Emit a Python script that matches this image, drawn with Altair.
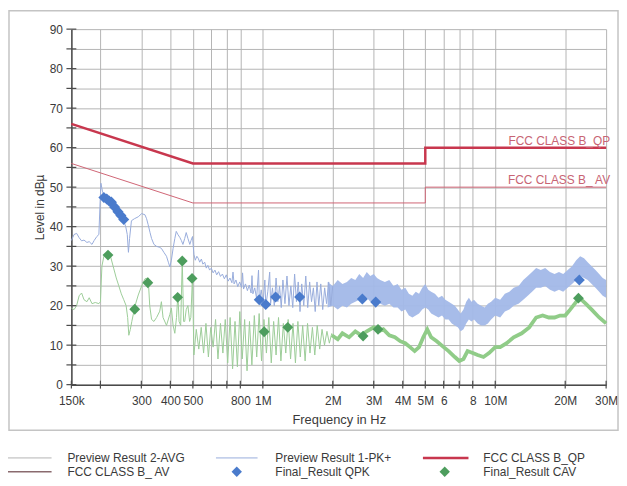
import altair as alt
import pandas as pd

FONT = "Liberation Sans"

# ---------------- data ----------------
# Preview Result 1-PK+ : line part (kHz, dBuV)
pk_f = [150, 154, 158, 162, 166, 170, 175, 179, 184, 188, 193, 197, 199, 201, 204, 208,
        213, 218, 223, 228, 234, 240, 246, 252, 257, 261, 264, 267, 272, 280, 291, 301,
        311, 316, 321, 327, 332, 340, 349, 358, 366, 375, 385, 392, 398, 404, 411, 418,
        424, 431, 439, 446, 453, 461, 468, 476, 485, 491, 498, 505, 512, 520, 527, 535,
        544, 552, 562, 571, 580, 590, 600, 611, 622, 633, 645, 657, 670, 683, 696, 709,
        722, 736, 744, 752, 766, 780, 795, 810, 818, 826, 842, 858, 874, 890, 898, 906,
        923, 940, 958, 966, 984, 1002, 1020, 1030, 1050, 1070, 1080, 1100, 1120, 1140,
        1160, 1180, 1200, 1220, 1245, 1270, 1295, 1320, 1345, 1370, 1395, 1420, 1445,
        1470, 1500, 1530, 1560, 1590, 1620, 1650, 1680, 1710, 1740, 1775, 1810, 1845,
        1880, 1920, 1960, 2000]
pk_v = [36.5, 38.0, 38.3, 37.2, 36.4, 36.6, 36.0, 36.2, 35.5, 36.5, 37.5, 38.0, 45.0, 51.0, 49.0, 47.5,
        46.5, 46.8, 46.0, 45.5, 44.5, 43.0, 42.5, 41.5, 40.0, 38.0, 33.5, 37.0, 41.5, 42.0, 42.5, 43.3,
        43.0, 42.0, 40.5, 38.5, 37.0, 35.5, 35.0, 34.8, 34.5, 33.5, 32.5, 31.0, 29.8, 31.5, 34.5, 37.0,
        38.8, 38.0, 37.3, 36.5, 35.5, 37.0, 38.5, 37.0, 35.5, 36.5, 37.5, 33.0, 31.5, 32.5, 32.0, 31.0,
        31.8, 30.5, 31.0, 29.5, 30.2, 29.0, 29.5, 28.3, 29.0, 27.8, 28.6, 27.4, 28.0, 26.8, 27.8, 26.2,
        27.0, 25.8, 28.5, 25.5, 26.5, 24.8, 26.0, 24.6, 28.3, 24.2, 25.5, 23.8, 25.2, 23.2, 27.6, 23.0,
        24.5, 21.8, 29.0, 21.0, 24.0, 20.5, 26.5, 20.0, 23.5, 28.5, 20.5, 24.5, 20.0, 27.0,
        21.0, 25.0, 19.5, 26.5, 20.5, 27.5, 20.0, 25.0, 19.5, 28.0, 21.0, 26.0, 18.5,
        25.5, 20.0, 27.5, 19.5, 26.0, 21.0, 24.5, 18.5, 26.0, 20.0, 25.5, 19.0, 24.5,
        20.5, 26.0, 20.0, 25.0]

# Preview Result 1-PK+ : dense part, envelope (MHz, dBuV)
pkb_f = [1.9, 2.0, 2.1, 2.2, 2.3, 2.4, 2.5, 2.6, 2.7, 2.8, 2.9, 3.0, 3.1, 3.2, 3.35, 3.5,
         3.65, 3.8, 3.95, 4.1, 4.25, 4.4, 4.55, 4.7, 4.85, 5.0, 5.15, 5.3, 5.5, 5.7, 5.9, 6.1,
         6.3, 6.5, 6.7, 6.9, 7.1, 7.3, 7.5, 7.7, 7.9, 8.1, 8.4, 8.7, 9.0, 9.3, 9.6, 10.0,
         10.5, 11, 11.5, 12, 12.6, 13.2, 13.8, 14.4, 15, 15.7, 16.4, 17.2, 18, 18.8, 19.6,
         20.5, 21.4, 22.3, 23.2, 24.1, 25, 26, 27, 28, 29, 30]
pkb_hi = [26.0, 25.0, 26.5, 25.5, 26.0, 27.0, 26.5, 28.0, 27.0, 28.5, 27.5, 28.0, 27.0, 26.5, 26.0, 26.5,
          25.0, 25.5, 24.0, 24.5, 23.0, 22.5, 23.5, 23.0, 24.5, 25.5, 24.0, 23.5, 23.0, 22.0, 22.5, 21.5,
          21.0, 20.5, 20.0, 19.0, 18.0, 19.0, 21.0, 22.0, 21.0, 21.5, 20.5, 20.0, 19.5, 20.5, 21.0, 22.0,
          21.5, 23.0, 23.5, 24.5, 25.0, 26.5, 27.5, 28.5, 29.5, 29.0, 29.5, 28.5, 28.0, 28.5, 28.0,
          29.0, 30.0, 31.5, 32.5, 32.0, 31.0, 30.0, 29.0, 28.0, 27.0, 26.5]
pkb_lo = [19.5, 20.0, 19.0, 20.0, 19.5, 20.5, 21.0, 21.5, 21.0, 22.0, 21.0, 21.5, 21.0, 20.5, 20.0, 20.5,
          19.5, 19.5, 18.5, 19.0, 17.5, 17.0, 17.5, 18.0, 19.0, 19.5, 19.0, 18.0, 17.5, 17.0, 17.5, 16.5,
          16.5, 15.5, 15.0, 14.5, 13.5, 14.0, 15.5, 16.5, 16.0, 16.5, 15.5, 15.0, 15.0, 15.5, 16.5, 17.5,
          17.0, 18.5, 19.0, 20.0, 20.5, 21.5, 22.5, 23.5, 24.5, 24.5, 25.0, 24.0, 23.5, 24.0, 23.5,
          24.5, 25.5, 26.5, 27.5, 27.0, 26.5, 25.5, 24.5, 23.5, 22.5, 22.0]

# Preview Result 2-AVG : line part (kHz, dBuV)
av_f = [150, 154, 158, 162, 166, 170, 175, 179, 184, 190, 197, 200, 203, 207, 214, 221,
        228, 234, 240, 246, 252, 258, 262, 265, 269, 273, 282, 291, 301, 311, 321, 326,
        332, 340, 349, 360, 366, 372, 385, 398, 404, 411, 418, 425, 431, 436, 443, 450,
        456, 461, 468, 476, 484, 490, 498,
        505, 517, 530, 543, 556, 569, 583, 597, 611, 626, 641, 657, 673, 689, 706, 723,
        741, 759, 777, 796, 815, 835, 855, 876, 897, 919, 941, 964, 987, 1011, 1036, 1061,
        1087, 1113, 1140, 1168, 1196, 1225, 1255, 1285, 1316, 1348, 1381, 1415, 1449, 1484,
        1520, 1557, 1595, 1634, 1673, 1714, 1756, 1798, 1842, 1887, 1933, 1980]
av_v = [19.4, 19.0, 20.0, 22.5, 23.2, 21.5, 21.0, 22.0, 20.5, 20.8, 20.5, 21.0, 30.0, 32.5, 33.0, 32.5,
        29.5, 27.0, 25.0, 23.0, 21.5, 20.0, 17.0, 12.5, 14.0, 16.0, 20.0, 22.7, 25.0, 26.8, 27.0, 20.0,
        16.5, 16.0, 17.0, 18.6, 21.0, 17.0, 15.0, 17.8, 19.4, 15.0, 13.0, 17.0, 23.0, 16.0, 15.0, 31.5,
        16.0, 16.0, 19.0, 20.0, 16.0, 17.0, 27.5,
        7.5, 14.0, 9.0, 14.5, 8.0, 15.5, 7.0, 14.5, 9.5, 16.5, 6.5, 15.5, 8.0, 16.5, 5.5, 17.0,
        4.0, 16.0, 4.5, 18.5, 6.5, 16.5, 3.5, 16.0, 5.0, 17.5, 7.0, 18.0, 6.0, 16.5, 8.0, 17.0,
        5.5, 16.0, 7.5, 17.0, 6.0, 15.5, 8.0, 16.5, 6.5, 15.5, 5.5, 16.0, 7.0, 15.0,
        6.0, 15.5, 8.0, 14.5, 7.5, 15.0, 9.0, 14.0, 10.0, 13.5, 10.5, 13.0]

# Preview Result 2-AVG : upper part (MHz, dBuV)
avh_f = [1.98, 2.1, 2.2, 2.35, 2.5, 2.65, 2.8, 3.0, 3.15, 3.3, 3.5, 3.7, 3.9, 4.1, 4.3, 4.5,
         4.7, 4.9, 5.1, 5.3, 5.6, 6.0, 6.3, 6.7, 7.0, 7.3, 7.6, 8.0, 8.4, 8.9, 9.4, 10,
         10.5, 11.2, 12, 13, 14, 15, 16, 17, 18, 19, 20, 21, 22, 23, 24.5, 26, 28, 30]
avh_v = [12.5, 11.5, 13.0, 12.0, 13.5, 12.5, 13.5, 14.5, 13.5, 14.0, 12.5, 12.0, 11.0, 10.5, 9.5, 8.5,
         9.5, 12.0, 14.0, 12.0, 11.0, 9.5, 8.5, 7.0, 6.0, 6.5, 8.5, 8.0, 7.5, 7.0, 8.0, 9.5,
         9.5, 10.5, 12.0, 13.0, 14.5, 17.0, 17.5, 17.0, 17.0, 17.5, 17.5, 19.0, 20.5, 22.0, 20.5, 19.0, 17.0, 15.5]

# Limits (kHz, dBuV)
qp_f = [150, 500, 5000, 5000, 30000]
qp_v = [66, 56, 56, 60, 60]
av_lim_f = [150, 500, 5000, 5000, 30000]
av_lim_v = [56, 46, 46, 50, 50]

# Final results (kHz, dBuV)
qpk_f = [207, 213, 218, 223, 230, 238, 245, 252, 965, 1029, 1135, 1440, 2680, 3060, 23000]
qpk_v = [47.4, 47.0, 46.5, 46.2, 45.0, 43.8, 42.8, 41.8, 21.5, 20.3, 22.2, 22.2, 21.7, 20.9, 26.5]
cav_f = [215.6, 281, 320, 430, 450, 496, 1013, 1280, 2700, 3130, 22800]
cav_v = [32.8, 19.1, 25.8, 22.1, 31.3, 26.9, 13.4, 14.5, 12.3, 14.0, 21.9]

# Axis ticks
x_tick_khz = [150, 200, 300, 400, 500, 600, 700, 800, 1000, 2000, 3000, 4000, 5000,
              6000, 7000, 8000, 10000, 20000, 30000]
x_tick_lab = ["150k", "", "300", "400", "500", "", "", "800", "1M", "2M", "3M", "4M", "5M",
              "6", "", "8", "10M", "20M", "30M"]
y_ticks = [0, 5, 10, 15, 20, 25, 30, 35, 40, 45, 50, 55, 60, 65, 70, 75, 80, 85, 90]

limit_labels = ["FCC CLASS B_QP", "FCC CLASS B_ AV"]
limit_label_lvl = [60, 50]

# ---------------- tables ----------------
pk = pd.DataFrame({"f": [v * 1e3 for v in pk_f], "v": pk_v})
pkb = pd.DataFrame({"f": [v * 1e6 for v in pkb_f], "hi": pkb_hi, "lo": pkb_lo})
av = pd.DataFrame({"f": [v * 1e3 for v in av_f], "v": av_v})
avh = pd.DataFrame({"f": [v * 1e6 for v in avh_f], "v": avh_v})
qp = pd.DataFrame({"f": [v * 1e3 for v in qp_f], "v": qp_v, "i": list(range(len(qp_f)))})
avl = pd.DataFrame({"f": [v * 1e3 for v in av_lim_f], "v": av_lim_v, "i": list(range(len(av_lim_f)))})
qpk = pd.DataFrame({"f": [v * 1e3 for v in qpk_f], "v": qpk_v})
cav = pd.DataFrame({"f": [v * 1e3 for v in cav_f], "v": cav_v})
xt = pd.DataFrame({"f": [v * 1e3 for v in x_tick_khz]})
yt = pd.DataFrame({"v": y_ticks})
lbl = pd.DataFrame({"t": limit_labels, "v": limit_label_lvl, "f": [30e6, 30e6]})
dummy = pd.DataFrame({"k": [0]})

W, H = 540, 359
TXT = "#3a3a3a"
AXC = "#4a4a4a"
GRID = "#b4b4b4"

xs = alt.Scale(type="log", domain=[150000, 30000000])
ys = alt.Scale(domain=[0, 90], nice=False, zero=False)

x_vals = [v * 1e3 for v in x_tick_khz]
expr = "''"
for val, lab in reversed(list(zip(x_vals, x_tick_lab))):
    expr = f"datum.value == {val:.0f} ? '{lab}' : ({expr})"

x_axis = alt.Axis(values=x_vals, labelExpr=expr, grid=True, gridColor=GRID, gridWidth=1,
                  ticks=False, domainColor=AXC, domainWidth=1.5, labelFont=FONT,
                  labelFontSize=12, labelColor=TXT, labelPadding=11, labelOverlap=False,
                  labelFlush=False, title="Frequency in Hz", titleFont=FONT, titleFontSize=13,
                  titleFontWeight="normal", titleColor=TXT, titlePadding=7)
y_axis = alt.Axis(values=y_ticks, labelExpr="datum.value % 10 == 0 ? datum.label : ''",
                  grid=True, gridColor=GRID, gridWidth=1, ticks=False, domainColor=AXC,
                  domainWidth=1.5, labelFont=FONT, labelFontSize=12, labelColor=TXT,
                  labelPadding=9, title="Level in dBµ", titleFont=FONT, titleFontSize=12,
                  titleFontWeight="normal", titleColor=TXT, titlePadding=3)


def X(field="f"):
    return alt.X(f"{field}:Q", scale=xs, axis=x_axis, title="Frequency in Hz")


def Y(field="v"):
    return alt.Y(f"{field}:Q", scale=ys, axis=y_axis, title="Level in dBµ")


layers = []
# PK band
layers.append(alt.Chart(pkb).mark_area(color="#a2b8e8", opacity=0.95).encode(x=X(), y=Y("hi"), y2="lo:Q"))
# AVG upper line
layers.append(alt.Chart(avh).mark_line(color="#90cc88", strokeWidth=3.8).encode(x=X(), y=Y()))
# AVG line
layers.append(alt.Chart(av).mark_line(color="#9ccc98", strokeWidth=1).encode(x=X(), y=Y()))
# PK line
layers.append(alt.Chart(pk).mark_line(color="#98acdc", strokeWidth=1).encode(x=X(), y=Y()))
# Limits
layers.append(alt.Chart(avl).mark_line(color="#cf6474", strokeWidth=1).encode(x=X(), y=Y(), order="i:Q"))
layers.append(alt.Chart(qp).mark_line(color="#c8374e", strokeWidth=2.5).encode(x=X(), y=Y(), order="i:Q"))
# limit labels
layers.append(alt.Chart(lbl).mark_text(align="right", baseline="middle", dx=4, dy=-7,
                                       font=FONT, fontSize=12, color="#c86474")
              .encode(x=X(), y=Y(), text="t:N"))
# finals
layers.append(alt.Chart(qpk).mark_point(shape="diamond", filled=True, size=125, opacity=1,
                                        color="#4a7bcc").encode(x=X(), y=Y()))
layers.append(alt.Chart(cav).mark_point(shape="diamond", filled=True, size=120, opacity=1,
                                        color="#4d9d5d").encode(x=X(), y=Y()))
# crossing ticks
layers.append(alt.Chart(xt).mark_rule(color=AXC, strokeWidth=1.2)
              .encode(x=X(), y=alt.value(H - 4), y2=alt.value(H + 4)))
layers.append(alt.Chart(yt).mark_rule(color=AXC, strokeWidth=1.2)
              .encode(y=Y(), x=alt.value(-5), x2=alt.value(5)))

# outer frame
layers.append(alt.Chart(dummy).mark_rect(fillOpacity=0, stroke="#c4c4c4", strokeWidth=1.5)
              .encode(x=alt.value(-63), x2=alt.value(552), y=alt.value(-18.5), y2=alt.value(405)))


# legend
def leg_text(t, px, py):
    return alt.Chart(dummy).mark_text(text=t, align="left", baseline="middle", font=FONT,
                                      fontSize=12, color=TXT).encode(x=alt.value(px), y=alt.value(py))


def leg_line(x0, x1, py, color, w):
    return alt.Chart(dummy).mark_rule(color=color, strokeWidth=w).encode(
        x=alt.value(x0), x2=alt.value(x1), y=alt.value(py))


def leg_dia(px, py, color):
    return alt.Chart(dummy).mark_point(shape="diamond", filled=True, size=110, opacity=1,
                                       color=color).encode(x=alt.value(px), y=alt.value(py))


R1, R2 = 433, 447
layers += [
    leg_line(-64, -20, R1, "#b4b4b4", 1), leg_text("Preview Result 2-AVG", -4, R1),
    leg_line(146, 188, R1, "#98acdc", 1), leg_text("Preview Result 1-PK+", 206, R1),
    leg_line(355, 401, R1, "#c8374e", 2.5), leg_text("FCC CLASS B_QP", 416, R1),
    leg_line(-64, -20, R2, "#8a6a6e", 1.5), leg_text("FCC CLASS B_ AV", -4, R2),
    leg_dia(167, R2, "#4a7bcc"), leg_text("Final_Result QPK", 206, R2),
    leg_dia(377, R2, "#4d9d5d"), leg_text("Final_Result CAV", 416, R2),
]

chart = alt.layer(*layers).properties(
    width=W, height=H,
    autosize=alt.AutoSizeParams(type="none"),
    padding={"left": 64, "top": 19, "right": 13, "bottom": 100},
    background="white",
).configure_view(strokeWidth=0)

chart.save("out.html", embed_options={"renderer": "svg", "actions": False})
